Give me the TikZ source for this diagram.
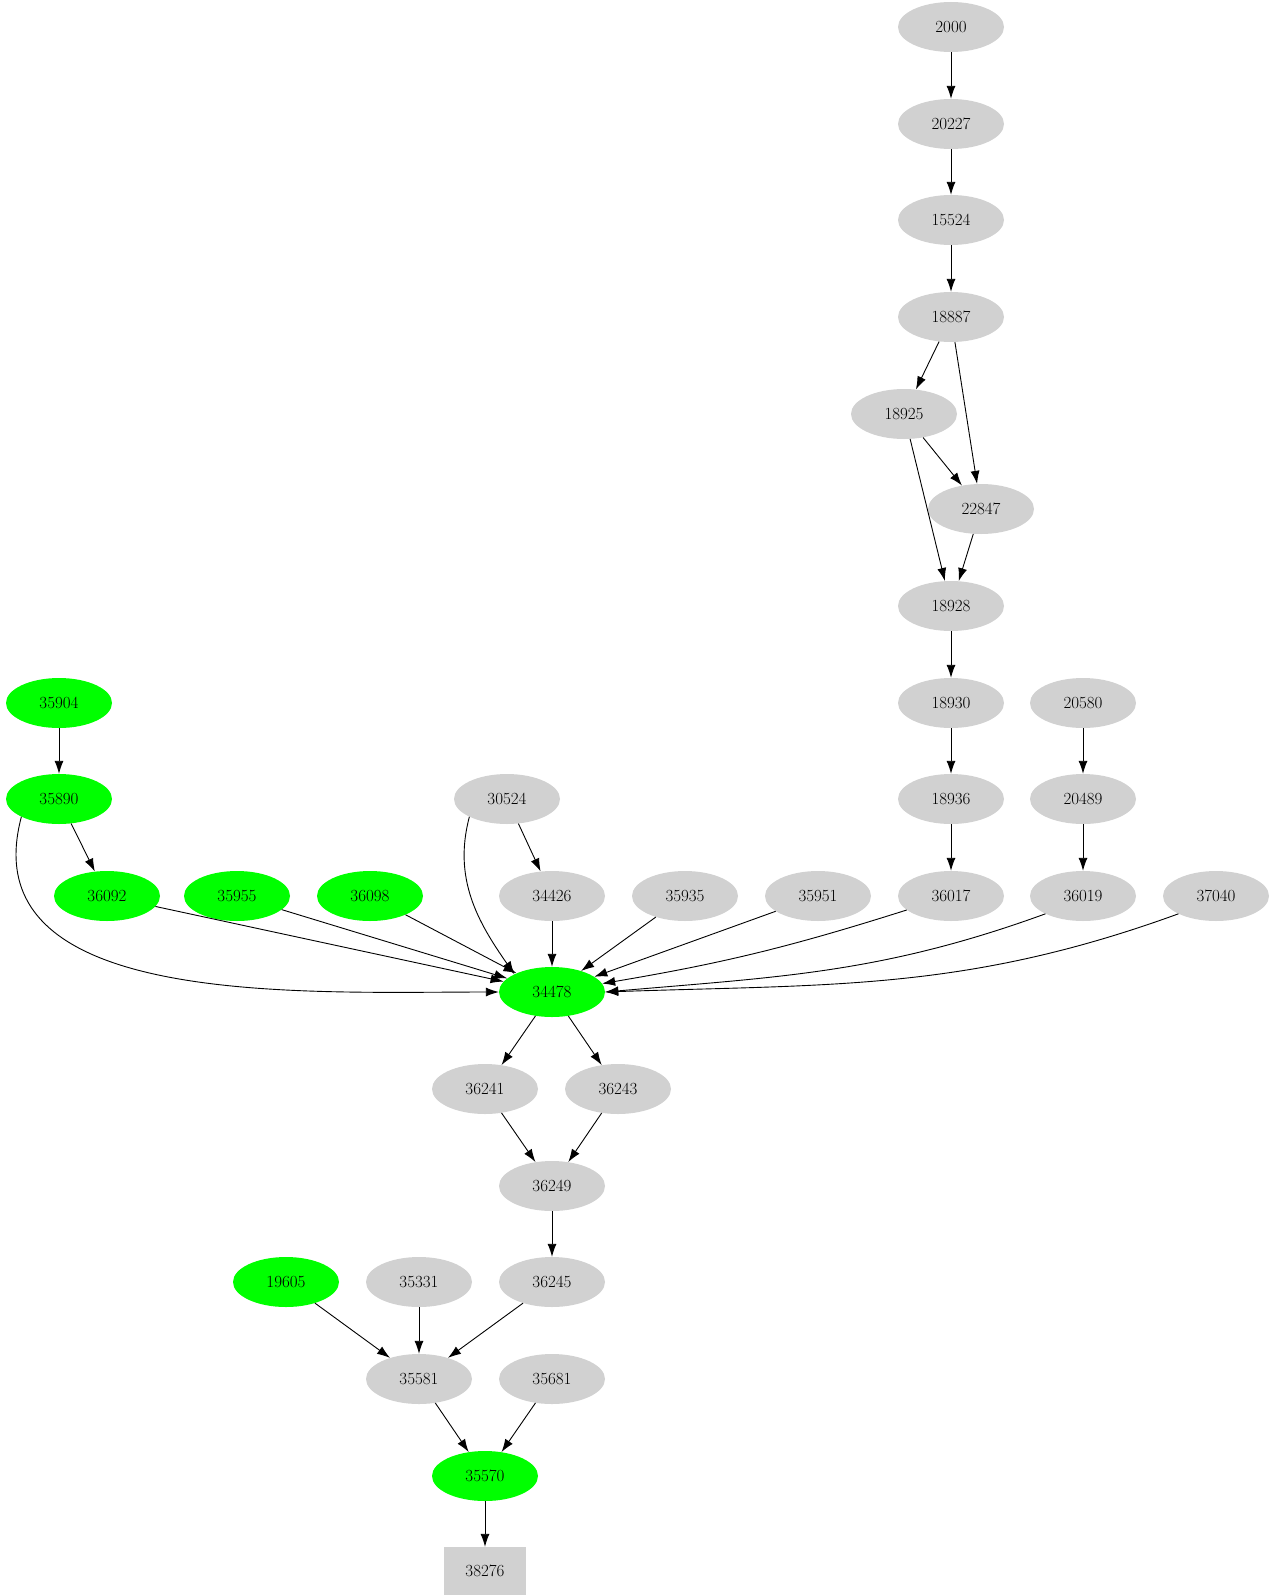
\documentclass[tikz,border=0pt]{standalone}
\usetikzlibrary{arrows.meta,shapes.geometric}
\begin{document}
\begin{tikzpicture}[x=1pt,y=-1pt,
	nd/.style={ellipse,fill=black!18,minimum width=106pt,minimum height=50pt,inner sep=0pt,font=\fontsize{17}{19}\selectfont},
	hit/.style={nd,fill=green},
	sink/.style={rectangle,fill=black!18,minimum width=82pt,minimum height=48pt,inner sep=0pt,font=\fontsize{17}{19}\selectfont},
	edge/.style={-{Latex[length=13pt,width=9pt]},line width=0.9pt}]
	\useasboundingbox (0,0) rectangle (1269,1595);
	% chain on the right
	\node[nd] (n2000) at (951,27) {2000};
	\node[nd] (n20227) at (951,124) {20227};
	\node[nd] (n15524) at (951,220) {15524};
	\node[nd] (n18887) at (951,317) {18887};
	\node[nd] (n18925) at (904,414) {18925};
	\node[nd] (n22847) at (981,509) {22847};
	\node[nd] (n18928) at (951,606) {18928};
	\node[nd] (n18930) at (951,703) {18930};
	\node[nd] (n20580) at (1083,703) {20580};
	\node[nd] (n18936) at (951,799) {18936};
	\node[nd] (n20489) at (1083,799) {20489};
	% left part
	\node[hit] (n35904) at (59,703) {35904};
	\node[hit] (n35890) at (59,799) {35890};
	\node[nd] (n30524) at (507,799) {30524};
	% row into the hub
	\node[hit] (n36092) at (107,896) {36092};
	\node[hit] (n35955) at (237,896) {35955};
	\node[hit] (n36098) at (370,896) {36098};
	\node[nd] (n34426) at (552,896) {34426};
	\node[nd] (n35935) at (685,896) {35935};
	\node[nd] (n35951) at (818,896) {35951};
	\node[nd] (n36017) at (951,896) {36017};
	\node[nd] (n36019) at (1083,896) {36019};
	\node[nd] (n37040) at (1216,896) {37040};
	\node[hit] (n34478) at (552,992) {34478};
	% lower part
	\node[nd] (n36241) at (485,1089) {36241};
	\node[nd] (n36243) at (618,1089) {36243};
	\node[nd] (n36249) at (552,1186) {36249};
	\node[hit] (n19605) at (286,1282) {19605};
	\node[nd] (n35331) at (419,1282) {35331};
	\node[nd] (n36245) at (552,1282) {36245};
	\node[nd] (n35581) at (419,1379) {35581};
	\node[nd] (n35681) at (552,1379) {35681};
	\node[hit] (n35570) at (485,1476) {35570};
	\node[sink] (n38276) at (485,1571) {38276};

	\draw[edge] (n2000) -- (n20227);
	\draw[edge] (n20227) -- (n15524);
	\draw[edge] (n15524) -- (n18887);
	\draw[edge] (n18887) -- (n18925);
	\draw[edge] (n18887) -- (n22847);
	\draw[edge] (n18925) -- (n22847);
	\draw[edge] (n18925) -- (n18928);
	\draw[edge] (n22847) -- (n18928);
	\draw[edge] (n18928) -- (n18930);
	\draw[edge] (n18930) -- (n18936);
	\draw[edge] (n18936) -- (n36017);
	\draw[edge] (n20580) -- (n20489);
	\draw[edge] (n20489) -- (n36019);
	\draw[edge] (n35904) -- (n35890);
	\draw[edge] (n35890) -- (n36092);
	\draw[edge] (n35890.south west) to[out=-105,in=180] (n34478.west);
	\draw[edge] (n30524) -- (n34426);
	\draw[edge] (n30524.south west) to[out=-105,in=125] (n34478.north west);
	\draw[edge] (n36092) -- (n34478);
	\draw[edge] (n35955) -- (n34478);
	\draw[edge] (n36098) -- (n34478);
	\draw[edge] (n34426) -- (n34478);
	\draw[edge] (n35935) -- (n34478);
	\draw[edge] (n35951) -- (n34478);
	\draw[edge] (n36017) to[bend left=4] (n34478);
	\draw[edge] (n36019.south west) to[out=-160,in=5] (n34478.east);
	\draw[edge] (n37040.south west) to[out=-160,in=2] (n34478.east);
	\draw[edge] (n34478) -- (n36241);
	\draw[edge] (n34478) -- (n36243);
	\draw[edge] (n36241) -- (n36249);
	\draw[edge] (n36243) -- (n36249);
	\draw[edge] (n36249) -- (n36245);
	\draw[edge] (n19605) -- (n35581);
	\draw[edge] (n35331) -- (n35581);
	\draw[edge] (n36245) -- (n35581);
	\draw[edge] (n35581) -- (n35570);
	\draw[edge] (n35681) -- (n35570);
	\draw[edge] (n35570) -- (n38276);
\end{tikzpicture}
\end{document}
